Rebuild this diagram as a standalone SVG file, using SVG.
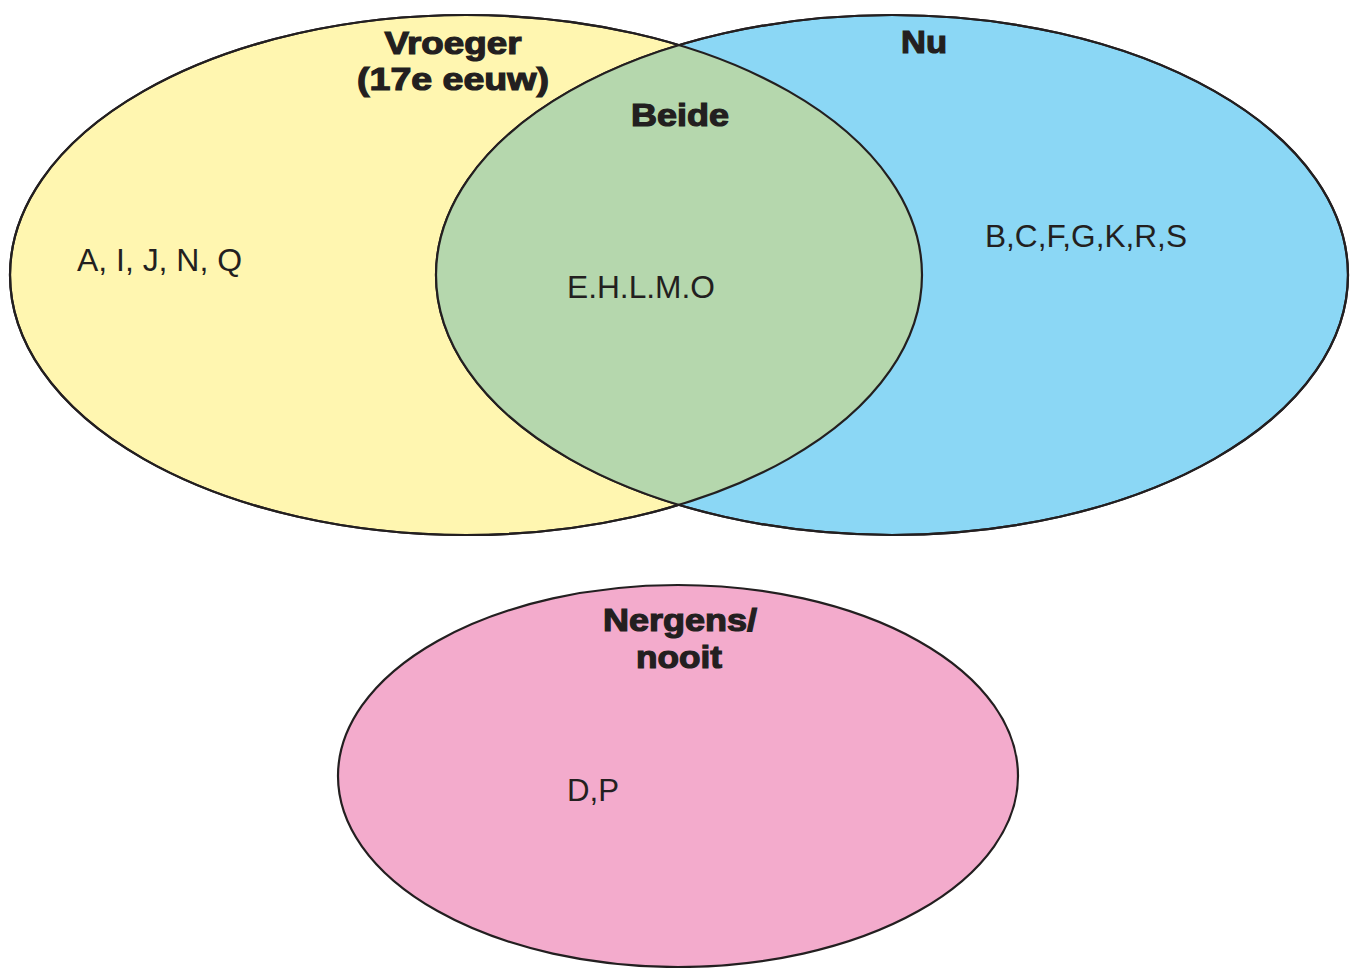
<svg xmlns="http://www.w3.org/2000/svg" width="1350" height="968" viewBox="0 0 1350 968">
<style>
.set{stroke:#231f20;stroke-width:2.2}
.h{font-family:"Liberation Sans",Arial,sans-serif;font-weight:900;font-size:32px;fill:#231f20;text-anchor:middle;stroke:#231f20;stroke-width:1.2}
.t{font-family:"Liberation Sans",Arial,sans-serif;font-size:31px;fill:#231f20}
</style>
<rect width="1350" height="968" fill="#ffffff"/>
<defs>
<clipPath id="clipL"><ellipse cx="466" cy="275" rx="456" ry="260"/></clipPath>
</defs>
<g id="vroeger"><ellipse class="set" cx="466" cy="275" rx="456" ry="260" fill="#fff6b0"/></g>
<g id="nu"><ellipse class="set" cx="892" cy="275" rx="456" ry="260" fill="#8bd7f5"/></g>
<g id="beide">
<ellipse cx="892" cy="275" rx="456" ry="260" fill="#b5d7ad" clip-path="url(#clipL)"/>
<ellipse cx="466" cy="275" rx="456" ry="260" fill="none" class="set"/>
<ellipse cx="892" cy="275" rx="456" ry="260" fill="none" class="set"/>
</g>
<g id="nergens"><ellipse class="set" cx="678" cy="776" rx="340" ry="191" fill="#f3abcc"/></g>
<g id="labels">
<text class="h" x="453" y="54" textLength="137" lengthAdjust="spacingAndGlyphs">Vroeger</text>
<text class="h" x="453" y="90" textLength="192" lengthAdjust="spacingAndGlyphs">(17e eeuw)</text>
<text class="h" x="924" y="53" textLength="46" lengthAdjust="spacingAndGlyphs">Nu</text>
<text class="h" x="680" y="126" textLength="98" lengthAdjust="spacingAndGlyphs">Beide</text>
<text class="h" x="680" y="631" textLength="154" lengthAdjust="spacingAndGlyphs">Nergens/</text>
<text class="h" x="679" y="668" textLength="86" lengthAdjust="spacingAndGlyphs">nooit</text>
<text class="t" x="77" y="271" textLength="165" lengthAdjust="spacingAndGlyphs">A, I, J, N, Q</text>
<text class="t" x="567" y="298" textLength="148" lengthAdjust="spacingAndGlyphs">E.H.L.M.O</text>
<text class="t" x="985" y="247" textLength="202" lengthAdjust="spacingAndGlyphs">B,C,F,G,K,R,S</text>
<text class="t" x="567" y="801" textLength="52" lengthAdjust="spacingAndGlyphs">D,P</text>
</g>
</svg>
